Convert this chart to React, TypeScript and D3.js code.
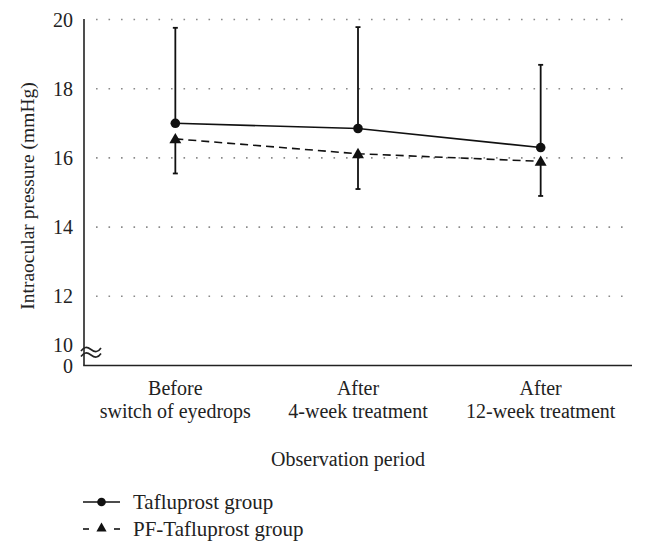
import React from "react";
import * as d3 from "d3";

const categories: string[][] = [
  ["Before", "switch of eyedrops"],
  ["After", "4-week treatment"],
  ["After", "12-week treatment"],
];
const tafluMean = [17.0, 16.85, 16.3];
const tafluUpper = [19.76, 19.78, 18.69];
const pfMean = [16.55, 16.12, 15.9];
const pfLower = [15.55, 15.1, 14.9];
const yTicks = [12, 14, 16, 18, 20];
const seriesNames = ["Tafluprost group", "PF-Tafluprost group"];

const W = 646;
const H = 556;
const FONT = "'Liberation Serif', 'DejaVu Serif', serif";

export default function App() {
  const x0 = 84;
  const x1 = 632;
  const yBase = 365.5;
  const x = d3
    .scalePoint<number>()
    .domain(categories.map((_, i) => i))
    .range([x0, x1])
    .padding(0.5);
  const y = d3.scaleLinear().domain([10, 20]).range([yBase, 19.5]);

  const line = d3
    .line<number>()
    .x((_, i) => x(i)!)
    .y((d) => y(d));

  const tri = d3.symbol().type(d3.symbolTriangle).size(62)()!;
  const cap = 2.5;

  const wave = (cy: number) =>
    `M81,${cy + 1.5} C84,${cy - 3} 87,${cy - 3} 91,${cy} S98,${cy + 3} 101,${cy - 1.5}`;

  return (
    <svg
      width={W}
      height={H}
      style={{ position: "absolute", left: 0, top: 0, background: "#fff", fontFamily: FONT }}
    >
      <rect x={0} y={0} width={W} height={H} fill="#fff" />
      {yTicks.map((t) => (
        <line
          key={t}
          x1={96}
          x2={624}
          y1={y(t)}
          y2={y(t)}
          stroke="#8a8a8a"
          strokeWidth={1.6}
          strokeDasharray="1.6 10.9"
        />
      ))}
      <line x1={x0} x2={x0} y1={19} y2={yBase} stroke="#222" strokeWidth={1.6} />
      <line x1={x0 - 0.8} x2={x1} y1={yBase} y2={yBase} stroke="#222" strokeWidth={1.6} />
      {yTicks.map((t) => (
        <text key={t} x={73} y={y(t)} dy="0.35em" textAnchor="end" fontSize={20} fill="#222">
          {t}
        </text>
      ))}
      <text x={73} y={345} dy="0.35em" textAnchor="end" fontSize={20} fill="#222">
        10
      </text>
      <text x={73} y={366} dy="0.35em" textAnchor="end" fontSize={20} fill="#222">
        0
      </text>
      <path d={wave(349.5)} fill="none" stroke="#222" strokeWidth={1.6} />
      <path d={wave(355)} fill="none" stroke="#222" strokeWidth={1.6} />
      <text
        transform={`translate(27,196) rotate(-90)`}
        textAnchor="middle"
        dy="0.35em"
        fontSize={19.5}
        fill="#222"
      >
        Intraocular pressure (mmHg)
      </text>
      {categories.map((c, i) => (
        <text key={i} x={x(i)} y={388} textAnchor="middle" fontSize={20} fill="#222">
          {c.map((l, j) => (
            <tspan key={j} x={x(i)} y={388 + j * 23} dy="0.35em">
              {l}
            </tspan>
          ))}
        </text>
      ))}
      <text x={348} y={459} dy="0.35em" textAnchor="middle" fontSize={20} fill="#222">
        Observation period
      </text>
      {tafluMean.map((m, i) => (
        <g key={"te" + i} stroke="#111" strokeWidth={1.8}>
          <line x1={x(i)} x2={x(i)} y1={y(m)} y2={y(tafluUpper[i])} />
          <line x1={x(i)! - cap} x2={x(i)! + cap} y1={y(tafluUpper[i])} y2={y(tafluUpper[i])} />
        </g>
      ))}
      {pfMean.map((m, i) => (
        <g key={"pe" + i} stroke="#111" strokeWidth={1.8}>
          <line x1={x(i)} x2={x(i)} y1={y(m)} y2={y(pfLower[i])} />
          <line x1={x(i)! - cap} x2={x(i)! + cap} y1={y(pfLower[i])} y2={y(pfLower[i])} />
        </g>
      ))}
      <path d={line(tafluMean)!} fill="none" stroke="#111" strokeWidth={1.6} />
      <path d={line(pfMean)!} fill="none" stroke="#111" strokeWidth={1.6} strokeDasharray="8 5" />
      {tafluMean.map((m, i) => (
        <circle key={"tc" + i} cx={x(i)} cy={y(m)} r={4.8} fill="#111" />
      ))}
      {pfMean.map((m, i) => (
        <path key={"pt" + i} d={tri} transform={`translate(${x(i)},${y(m) + 1})`} fill="#111" />
      ))}
      <g>
        <line x1={83} x2={120} y1={502} y2={502} stroke="#111" strokeWidth={1.6} />
        <circle cx={101.5} cy={502} r={4.3} fill="#111" />
        <text x={133} y={502} dy="0.35em" fontSize={21} fill="#222">
          {seriesNames[0]}
        </text>
        <line x1={83} x2={89} y1={529} y2={529} stroke="#111" strokeWidth={1.6} />
        <line x1={114} x2={120} y1={529} y2={529} stroke="#111" strokeWidth={1.6} />
        <path
          d={d3.symbol().type(d3.symbolTriangle).size(45)()!}
          transform="translate(101.5,528.5)"
          fill="#111"
        />
        <text x={133} y={529} dy="0.35em" fontSize={21} fill="#222">
          {seriesNames[1]}
        </text>
      </g>
    </svg>
  );
}
